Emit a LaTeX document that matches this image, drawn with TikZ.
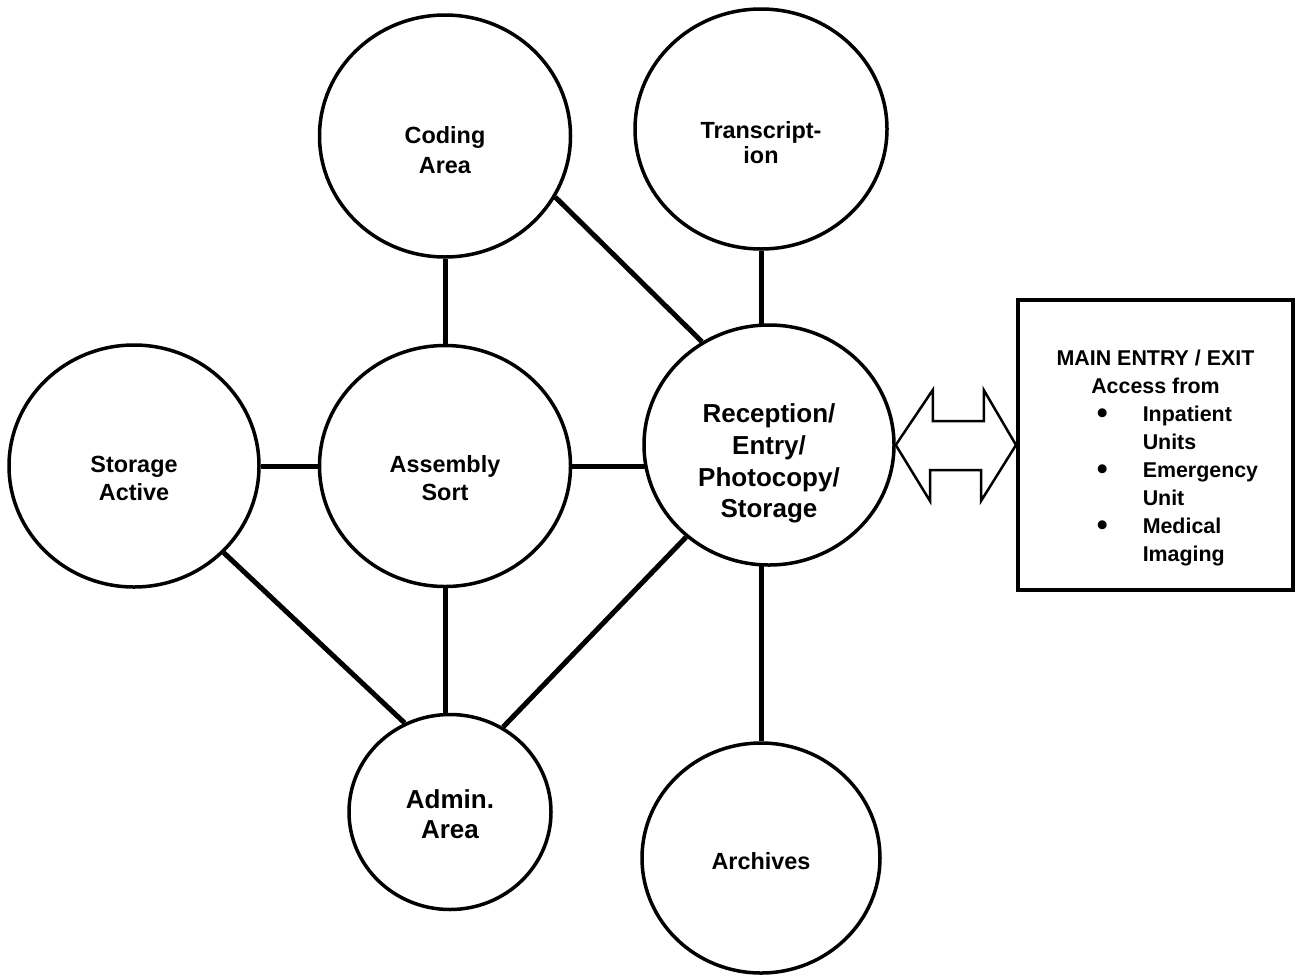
\documentclass[tikz,border=0pt]{standalone}
\usepackage{fontspec}
\setmainfont{Liberation Sans}
\usetikzlibrary{shapes,calc,backgrounds}
\newcommand{\areatext}[2]{\raisebox{-#1}[0pt][0pt]{\begin{tabular}{@{}c@{}}#2\end{tabular}}}
\newcommand{\bigbullet}{\raisebox{-1.2pt}{\scalebox{1.45}{\textbullet}}}
\begin{document}
\begin{tikzpicture}[x=0.5pt,y=-0.5pt,
area/.style={draw,ellipse,line width=1.75pt,fill=white,inner sep=0pt,minimum width=125pt,minimum height=120pt,font=\bfseries\fontsize{11.7}{14}\selectfont},
link/.style={line width=2.5pt},
entry/.style={draw,rectangle,line width=2pt,fill=white,inner sep=0pt,minimum width=137.5pt,minimum height=145pt,font=\bfseries\fontsize{10.7}{14}\selectfont}]

\useasboundingbox (0,0) rectangle (1295,975);

        \node [area,minimum width=125.5pt,minimum height=121pt,font=\bfseries\fontsize{11.7}{15}\selectfont] (code) at (445,136) {\areatext{11pt}{Coding\\Area}};
        \node [area,minimum width=126pt,font=\bfseries\fontsize{11.7}{12.5}\selectfont] (trans) at (761,129) {\areatext{11.5pt}{Transcript-\\ion}};
        \node [area,minimum height=121pt] (store) at (134,466) {\areatext{10.5pt}{Storage\\Active}};
        \node [area,minimum width=125.5pt,minimum height=120.5pt] (asm) at (445,466) {\areatext{10.5pt}{Assembly\\Sort}};
        \node [area,font=\bfseries\fontsize{13}{15.8}\selectfont] (rec) at (769,445) {\areatext{12.5pt}{Reception/\\Entry/\\Photocopy/\\Storage}};
        \node [area,minimum width=101pt,minimum height=97.5pt,font=\bfseries\fontsize{13}{15}\selectfont] (admin) at (450,812) {\areatext{5.5pt}{Admin.\\Area}};
        \node [area,minimum width=119pt,minimum height=115pt] (arch) at (761,858) {\areatext{6pt}{Archives}};
        \node [entry] (exit) at (1155.5,445) {\areatext{9pt}{MAIN ENTRY / EXIT\\Access from\\\hspace*{22pt}\begin{tabular}[t]{@{}c@{\hspace{17.5pt}}l@{}}\bigbullet&Inpatient\\&Units\\\bigbullet&Emergency\\&Unit\\\bigbullet&Medical\\&Imaging\end{tabular}}};

        \begin{scope}[on background layer]
        \draw [link] (code) -- (asm);
        \draw [link] (code.-29) -- (rec.123);
        \draw [link] (trans) -- (trans |- rec);
        \draw [link] (store) -- (asm);
        \draw [link] (asm) -- (asm -| rec);
        \draw [link] (store.-44) -- (admin.117);
        \draw [link] (asm) -- (asm |- admin);
        \draw [link] (rec.-132) -- (admin.58);
        \draw [link] (arch) -- (arch |- rec);
        \end{scope}

        \draw [line width=1.25pt] (rec.east) -- ++(37,-55) -- ++(0,31) -- ++(51,0) -- ++(0,-31) -- (exit.west) -- ++(-35,56) -- ++(0,-31) -- ++(-51,0) -- ++(0,31) -- cycle;
    \end{tikzpicture}
\end{document}
